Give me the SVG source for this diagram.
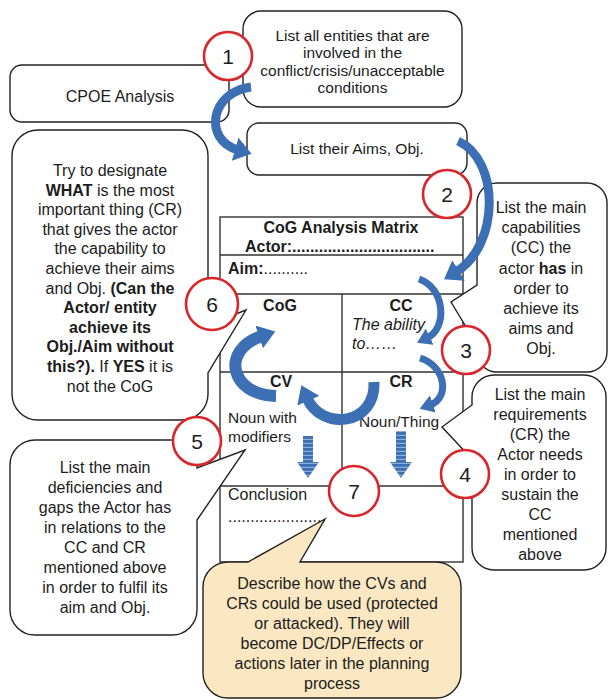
<svg xmlns="http://www.w3.org/2000/svg" width="608" height="700" viewBox="0 0 608 700">
  <style>
    .box { fill: #ffffff; stroke: #222222; stroke-width: 1.4; }
    .note { fill: #fbe8c2; stroke: #222222; stroke-width: 1.4; }
    .grid { fill: none; stroke: #333333; stroke-width: 1.4; }
    .num { fill: #ffffff; stroke: #d8262c; stroke-width: 2.6; }
    text { font-family: "Liberation Sans", Arial, sans-serif; fill: #1c1c1c; }
    .t16 { font-size: 16px; }
    .t15 { font-size: 15.5px; }
    .mid { text-anchor: middle; }
    .b { font-weight: bold; }
    .i { font-style: italic; }
    .n { font-size: 21px; text-anchor: middle; }
    .arrow { fill: none; stroke: #3c6fb3; stroke-linecap: butt; }
  </style>
  <defs>
    <marker id="head" markerUnits="userSpaceOnUse" markerWidth="17" markerHeight="24" viewBox="0 0 17 24" refX="3" refY="12" orient="auto">
      <path d="M0 0 L17 12 L0 24 Z" fill="#3c6fb3"/>
    </marker>
    <marker id="headSmall" markerUnits="userSpaceOnUse" markerWidth="14" markerHeight="18" viewBox="0 0 14 18" refX="3" refY="9" orient="auto">
      <path d="M0 0 L14 9 L0 18 Z" fill="#3c6fb3"/>
    </marker>
    <pattern id="stripes" patternUnits="userSpaceOnUse" width="8" height="4">
      <rect width="8" height="4" fill="#8fb0da"/>
      <rect width="8" height="2.8" fill="#3c6fb3"/>
    </pattern>
  </defs>

  <!-- top row boxes -->
  <g id="cpoe">
    <rect class="box" x="10" y="65" width="219" height="57" rx="12"/>
    <text class="t16 mid" x="120" y="102">CPOE Analysis</text>
  </g>
  <g id="entities">
    <rect class="box" x="243" y="11" width="219" height="96" rx="18"/>
    <text class="t15 mid" x="352.5" y="40.5">List all entities that are</text>
    <text class="t15 mid" x="352.5" y="58">involved in the</text>
    <text class="t15 mid" x="352.5" y="75.5">conflict/crisis/unacceptable</text>
    <text class="t15 mid" x="352.5" y="93">conditions</text>
  </g>
  <g id="aims">
    <rect class="box" x="247" y="123" width="220" height="52" rx="12"/>
    <text class="t15 mid" x="357" y="154">List their Aims, Obj.</text>
  </g>

  <!-- analysis matrix -->
  <g id="matrix">
    <rect class="grid" x="220" y="217" width="243" height="345"/>
    <path class="grid" d="M220 255 H463 M220 294 H463 M220 372 H463 M220 486 H463 M342 294 V486"/>
    <text class="t16 mid b" x="341" y="233">CoG Analysis Matrix</text>
    <text class="t16 b" x="245" y="252">Actor:................................</text>
    <text class="t16" x="228" y="274"><tspan class="b">Aim:</tspan>..........</text>
    <text class="t16 mid b" x="280" y="311">CoG</text>
    <text class="t16 mid b" x="401" y="311">CC</text>
    <text class="t16 i" x="352" y="330">The ability</text>
    <text class="t16 i" x="352" y="349">to……</text>
    <text class="t16 mid b" x="281" y="387">CV</text>
    <text class="t16 mid b" x="401" y="387">CR</text>
    <text class="t15" x="228" y="423">Noun with</text>
    <text class="t15" x="228" y="442">modifiers</text>
    <text class="t15" x="359" y="427">Noun/Thing</text>
    <text class="t16" x="228" y="500">Conclusion</text>
    <text class="t16" x="228" y="522">......................</text>
  </g>

  <!-- callouts -->
  <g id="designate">
    <path class="box" d="M38 130 H182 A26 26 0 0 1 208 156 V325 L246 310 L208 373 V394 A26 26 0 0 1 182 420 H38 A26 26 0 0 1 12 394 V156 A26 26 0 0 1 38 130 Z"/>
    <text class="t16 mid" x="110" y="176">Try to designate</text>
    <text class="t16 mid" x="110" y="195.6"><tspan class="b">WHAT</tspan> is the most</text>
    <text class="t16 mid" x="110" y="215.2">important thing (CR)</text>
    <text class="t16 mid" x="110" y="234.8">that gives the actor</text>
    <text class="t16 mid" x="110" y="254.4">the capability to</text>
    <text class="t16 mid" x="110" y="274">achieve their aims</text>
    <text class="t16 mid" x="110" y="293.6">and Obj. <tspan class="b">(Can the</tspan></text>
    <text class="t16 mid b" x="110" y="313.2">Actor/ entity</text>
    <text class="t16 mid b" x="110" y="332.8">achieve its</text>
    <text class="t16 mid b" x="110" y="352.4">Obj./Aim without</text>
    <text class="t16 mid" x="110" y="372"><tspan class="b">this?).</tspan> If <tspan class="b">YES</tspan> it is</text>
    <text class="t16 mid" x="110" y="391.6">not the CoG</text>
  </g>
  <g id="deficiencies">
    <path class="box" d="M35 440 H172 A25 25 0 0 1 197 465 V468 L245 450 L197 520 V610 A25 25 0 0 1 172 635 H35 A25 25 0 0 1 10 610 V465 A25 25 0 0 1 35 440 Z"/>
    <text class="t16 mid" x="105" y="473">List the main</text>
    <text class="t16 mid" x="105" y="493">deficiencies and</text>
    <text class="t16 mid" x="105" y="513">gaps the Actor has</text>
    <text class="t16 mid" x="105" y="533">in relations to the</text>
    <text class="t16 mid" x="105" y="553">CC and CR</text>
    <text class="t16 mid" x="105" y="573">mentioned above</text>
    <text class="t16 mid" x="105" y="593">in order to fulfil its</text>
    <text class="t16 mid" x="105" y="613">aim and Obj.</text>
  </g>
  <g id="capabilities">
    <path class="box" d="M497 183 H587 A20 20 0 0 1 607 203 V352 A20 20 0 0 1 587 372 H497 A20 20 0 0 1 477 352 V345 L451 302 L477 285 V203 A20 20 0 0 1 497 183 Z"/>
    <text class="t16 mid" x="541" y="213">List the main</text>
    <text class="t16 mid" x="541" y="233.2">capabilities</text>
    <text class="t16 mid" x="541" y="253.4">(CC) the</text>
    <text class="t16 mid" x="541" y="273.6">actor <tspan class="b">has</tspan> in</text>
    <text class="t16 mid" x="541" y="293.8">order to</text>
    <text class="t16 mid" x="541" y="314">achieve its</text>
    <text class="t16 mid" x="541" y="334.2">aims and</text>
    <text class="t16 mid" x="541" y="354.4">Obj.</text>
  </g>
  <g id="requirements">
    <path class="box" d="M494 375 H584 A22 22 0 0 1 606 397 V548 A22 22 0 0 1 584 570 H494 A22 22 0 0 1 472 548 V459 L442 427 L472 405 V397 A22 22 0 0 1 494 375 Z"/>
    <text class="t16 mid" x="540" y="400">List the main</text>
    <text class="t16 mid" x="540" y="420">requirements</text>
    <text class="t16 mid" x="540" y="440">(CR) the</text>
    <text class="t16 mid" x="540" y="460">Actor needs</text>
    <text class="t16 mid" x="540" y="480">in order to</text>
    <text class="t16 mid" x="540" y="500">sustain the</text>
    <text class="t16 mid" x="540" y="520">CC</text>
    <text class="t16 mid" x="540" y="540">mentioned</text>
    <text class="t16 mid" x="540" y="560">above</text>
  </g>
  <g id="conclusion-note">
    <path class="note" d="M228 562 H248 L325 519 L300 562 H436 A25 25 0 0 1 461 587 V673 A25 25 0 0 1 436 698 H228 A25 25 0 0 1 203 673 V587 A25 25 0 0 1 228 562 Z"/>
    <text class="t16 mid" x="332" y="588.5">Describe how the CVs and</text>
    <text class="t16 mid" x="332" y="608.5">CRs could be used (protected</text>
    <text class="t16 mid" x="332" y="628.5">or attacked). They will</text>
    <text class="t16 mid" x="332" y="648.5">become DC/DP/Effects or</text>
    <text class="t16 mid" x="332" y="668.5">actions later in the planning</text>
    <text class="t16 mid" x="332" y="688.5">process</text>
  </g>

  <!-- connectors: curved block arrows and striped down arrows -->
  <g id="connectors">
    <path class="arrow" stroke-width="9" d="M251 87 C210 92 203 140 238 150" marker-end="url(#head)"/>
    <path class="arrow" stroke-width="9" d="M458 141 C500 160 500 245 456 272" marker-end="url(#head)"/>
    <path class="arrow" stroke-width="7" d="M419 279 C445 288 448 328 427 338" marker-end="url(#headSmall)"/>
    <path class="arrow" stroke-width="7" d="M420 358 C446 366 450 398 430 405" marker-end="url(#headSmall)"/>
    <path class="arrow" stroke-width="11" d="M374 382 C376 425 322 432 307 398" marker-end="url(#head)"/>
    <path class="arrow" stroke-width="12" d="M276 396 C230 395 220 350 262 336" marker-end="url(#head)"/>
    <polygon fill="url(#stripes)" points="303,436 313,436 313,462 319,462 308,478 297,462 303,462"/>
    <polygon fill="url(#stripes)" points="396,431 406,431 406,462 412,462 401,478 390,462 396,462"/>
  </g>

  <!-- step numbers -->
  <g id="step1"><circle class="num" cx="228" cy="56" r="24"/><text class="n" x="228" y="63.5">1</text></g>
  <g id="step2"><circle class="num" cx="447" cy="194" r="24"/><text class="n" x="447" y="201.5">2</text></g>
  <g id="step3"><circle class="num" cx="466" cy="350" r="24"/><text class="n" x="466" y="357.5">3</text></g>
  <g id="step4"><circle class="num" cx="465" cy="474" r="24"/><text class="n" x="465" y="481.5">4</text></g>
  <g id="step5"><circle class="num" cx="197" cy="441" r="24"/><text class="n" x="197" y="448.5">5</text></g>
  <g id="step6"><circle class="num" cx="212" cy="304" r="26"/><text class="n" x="212" y="311.5">6</text></g>
  <g id="step7"><circle class="num" cx="354" cy="491" r="25"/><text class="n" x="354" y="498.5">7</text></g>
</svg>
